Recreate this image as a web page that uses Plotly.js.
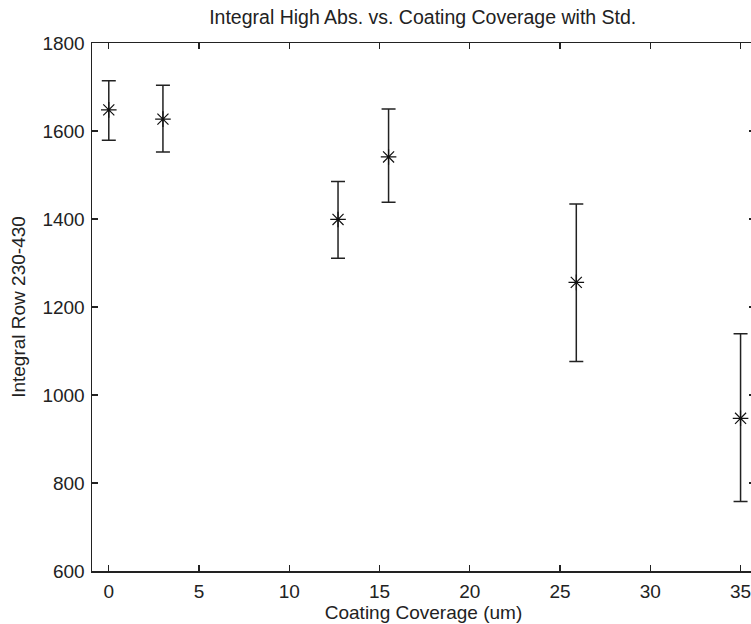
<!DOCTYPE html>
<html>
<head>
<meta charset="utf-8">
<script src="https://cdn.plot.ly/plotly-3.0.1.min.js"></script>
<style>
html, body { margin: 0; padding: 0; overflow: hidden; background: #fff; width: 751px; height: 624px; }
#chart { width: 770px; height: 624px; }
</style>
</head>
<body>
<div id="chart"></div>
<script>
// Data
const coverage = [0, 3, 12.7, 15.5, 25.9, 35];
const integral = [1648, 1627, 1399, 1541, 1256, 947];
const stdPlus  = [66, 77, 86, 109, 178, 192];
const stdMinus = [69, 75, 88, 103, 180, 189];

const xTicks = [0, 5, 10, 15, 20, 25, 30, 35];
const yTicks = [600, 800, 1000, 1200, 1400, 1600, 1800];

const fam = 'Liberation Sans, Arial, sans-serif';
const txt = '#222';
const fs = 19;

const trace = {
  x: coverage,
  y: integral,
  type: 'scatter',
  mode: 'markers',
  marker: { symbol: 'asterisk-open', size: 13, color: '#111', line: { color: '#111', width: 1.2 } },
  error_y: {
    type: 'data',
    symmetric: false,
    array: stdPlus,
    arrayminus: stdMinus,
    color: '#222',
    thickness: 1.5,
    width: 7
  },
  hoverinfo: 'x+y'
};

const layout = {
  width: 770,
  height: 624,
  margin: { l: 92, r: 15, t: 43, b: 53 },
  paper_bgcolor: '#fff',
  plot_bgcolor: '#fff',
  font: { family: fam, size: fs, color: txt },
  showlegend: false,
  title: { text: 'Integral High Abs. vs. Coating Coverage with Std.', font: { size: 19.5, color: txt, family: fam }, x: 0.549, xanchor: 'center', y: 0.972, yanchor: 'middle' },
  xaxis: {
    range: [-0.93, 35.8],
    tickvals: xTicks,
    ticktext: xTicks.map(String),
    ticks: 'inside',
    ticklen: 6,
    tickcolor: '#222',
    tickwidth: 1.2,
    showline: true,
    linecolor: '#222',
    linewidth: 1.5,
    mirror: 'ticks',
    showgrid: false,
    zeroline: false,
    ticklabelstandoff: 3,
    tickfont: { size: fs, color: txt, family: fam },
    title: { text: 'Coating Coverage (um)', font: { size: fs, color: txt, family: fam }, standoff: 0 }
  },
  yaxis: {
    range: [600, 1800],
    tickvals: yTicks,
    ticktext: yTicks.map(String),
    ticks: 'inside',
    ticklen: 6,
    tickcolor: '#222',
    tickwidth: 1.2,
    showline: true,
    linecolor: '#222',
    linewidth: 1.5,
    mirror: 'ticks',
    showgrid: false,
    zeroline: false,
    ticklabelstandoff: 2,
    tickfont: { size: fs, color: txt, family: fam },
    title: { text: 'Integral Row 230-430', font: { size: fs, color: txt, family: fam }, standoff: 12 }
  }
};

Plotly.newPlot('chart', [trace], layout, { staticPlot: true, displayModeBar: false });
</script>
</body>
</html>
